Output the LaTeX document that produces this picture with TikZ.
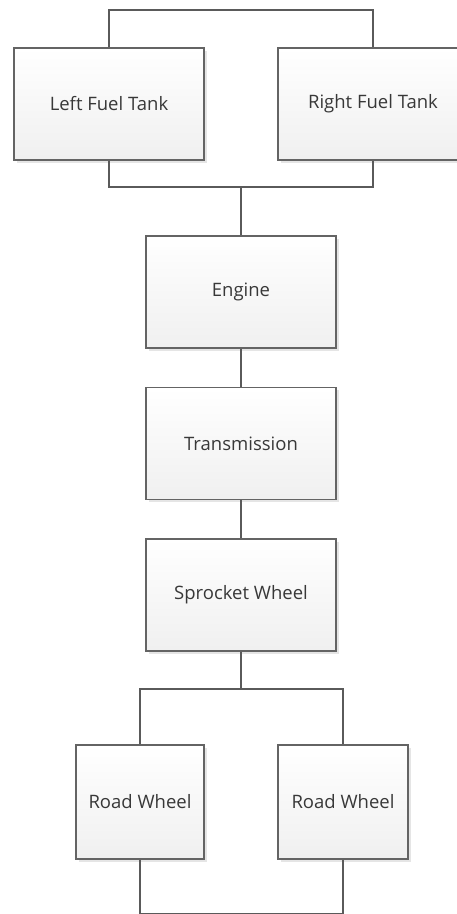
\documentclass[tikz,border=0pt]{standalone}
\usepackage{fontspec}
\setmainfont{Open Sans}
\usetikzlibrary{shadows}
\definecolor{boxline}{HTML}{646464}
\definecolor{linkline}{HTML}{5A5A5A}
\definecolor{labeltext}{HTML}{383838}
\tikzset{
  part/.style={draw=boxline, line width=1.7pt, top color=white, bottom color=black!6,
    minimum height=112pt, text=labeltext, font=\fontsize{18.5}{22}\selectfont,
    drop shadow={shadow xshift=2.5pt, shadow yshift=-2.5pt, opacity=.25, fill=black!40}},
  link/.style={draw=linkline, line width=1.6pt}
}
\begin{document}
\begin{tikzpicture}[x=1pt, y=-1pt]
    \useasboundingbox (0,0) rectangle (456,914);
    \node[part, minimum width=190pt](LT) at (109,104){Left Fuel Tank};
    \node[part, minimum width=190pt](RT) at (373,104){Right Fuel Tank};
    \node[part, minimum width=190pt](EN) at (241,292){Engine};
    \node[part, minimum width=190pt](TR) at (241,443.5){Transmission};
    \node[part, minimum width=190pt](SW) at (241,595){Sprocket Wheel};
    \node[part, minimum width=128pt, minimum height=114pt](RW1) at (140,802){Road Wheel};
    \node[part, minimum width=130pt, minimum height=114pt](RW2) at (343,802){Road Wheel};
    \coordinate(tbus) at (241,10);
    \coordinate(fbus) at (241,187);
    \coordinate(wbus) at (241,689);
    \coordinate(bbus) at (241,913.5);
    \draw[link](LT.north) |- (tbus) -| (RT.north);
    \draw[link](LT.south) |- (fbus) -| (RT.south);
    \draw[link](fbus) -- (EN.north);
    \draw[link](EN) -- (TR);
    \draw[link](TR) -- (SW);
    \draw[link](SW.south) -- (wbus);
    \draw[link](RW1.north) |- (wbus) -| (RW2.north);
    \draw[link](RW1.south) |- (bbus) -| (RW2.south);
\end{tikzpicture}
\end{document}
